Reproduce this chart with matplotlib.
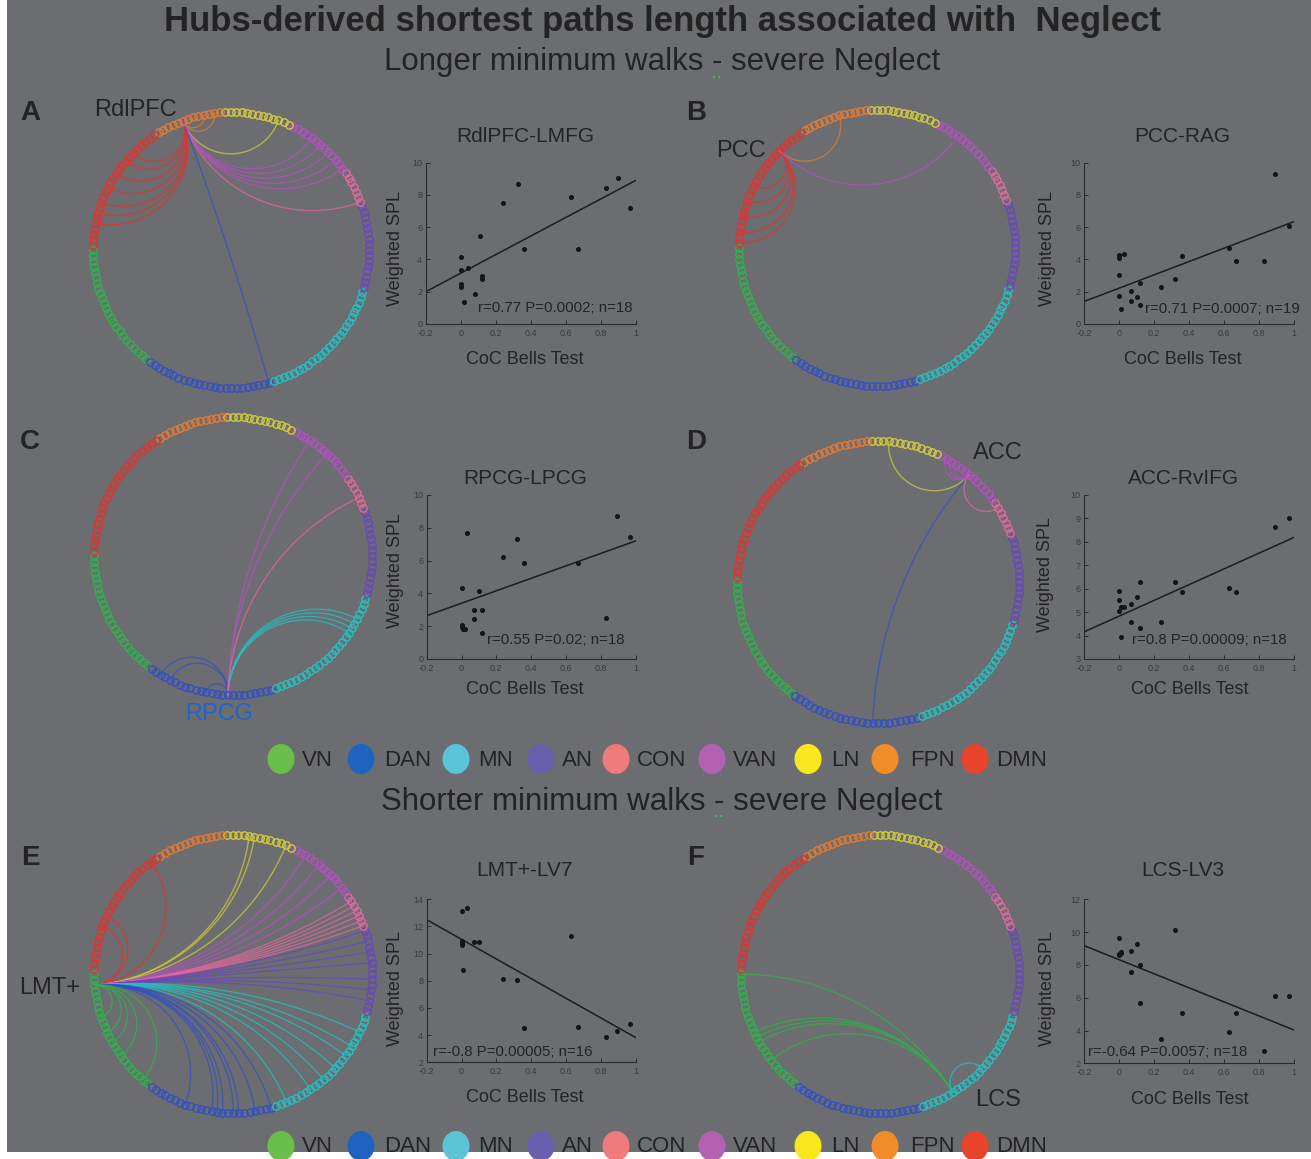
import numpy as np
import matplotlib
matplotlib.use('Agg')
import matplotlib.pyplot as plt
from matplotlib.patches import Ellipse, Rectangle

plt.rcParams['font.family'] = ['Liberation Sans', 'DejaVu Sans']

W, H = 1311, 1159
BG = '#6b6d70'
TXT = '#232323'

# ---------------- network layout data ----------------
network_names = ['VN', 'DAN', 'MN', 'AN', 'CON', 'VAN', 'LN', 'FPN', 'DMN']
network_sizes = [24, 24, 25, 16, 7, 13, 13, 13, 25]
node_colors = ['#2fb24c', '#3350c4', '#22c2c4', '#6a48b8', '#e4679e',
               '#b450c2', '#d6cb3c', '#e57a33', '#e5322d']
legend_colors = ['#6abf4b', '#1f63c0', '#5bc4d6', '#6a5fad', '#ef7b7b',
                 '#b262b0', '#f8e71c', '#f28c28', '#e8432b']
start_angle = 179.0

# ---------------- circle graph data (node indices) ----------------
panels = ['A', 'B', 'C', 'D', 'E', 'F']
hub_nodes = [129, 140, 39, 102, 2, 54]
hub_names = ['RdlPFC', 'PCC', 'RPCG', 'ACC', 'LMT+', 'LCS']
targets_A = [123, 125, 140, 142, 145, 148, 151, 153, 155, 111, 96, 98, 100, 102, 104, 89, 47]
targets_B = [148, 151, 154, 157, 159, 127, 104]
targets_C = [26, 28, 35, 65, 66, 67, 68, 101, 105, 91]
targets_D = [118, 39, 105, 106, 107, 94]
targets_E = [136, 149, 151, 110, 116, 117, 97, 100, 103, 106, 89, 90, 91, 92, 93, 94,
             75, 77, 79, 82, 84, 86, 88, 50, 55, 58, 61, 64, 66, 69,
             31, 36, 37, 38, 40, 41, 44, 47, 8, 11, 13, 16, 22]
targets_F = [0, 11, 12, 13, 17, 61]
all_targets = [targets_A, targets_B, targets_C, targets_D, targets_E, targets_F]

# ---------------- scatter data ----------------
x_label_ticks = ['-0.2', '0', '0.2', '0.4', '0.6', '0.8', '1']
scatter_titles = ['RdlPFC-LMFG', 'PCC-RAG', 'RPCG-LPCG', 'ACC-RvIFG', 'LMT+-LV7', 'LCS-LV3']
stats_text = ['r=0.77 P=0.0002; n=18', 'r=0.71 P=0.0007; n=19', 'r=0.55 P=0.02; n=18',
              'r=0.8 P=0.00009; n=18', 'r=-0.8 P=0.00005; n=16', 'r=-0.64 P=0.0057; n=18']

xA = [0.0, 0.0, 0.04, 0.0, 0.0, 0.02, 0.08, 0.11, 0.12, 0.12, 0.24, 0.33, 0.36, 0.63, 0.67, 0.83, 0.90, 0.97]
yA = [4.17, 3.35, 3.45, 2.48, 2.31, 1.36, 1.88, 5.45, 2.98, 2.77, 7.48, 8.66, 4.65, 7.85, 4.63, 8.41, 9.03, 7.19]
xB = [0.0, 0.0, 0.03, 0.0, 0.0, 0.01, 0.07, 0.07, 0.10, 0.12, 0.12, 0.24, 0.32, 0.36, 0.63, 0.67, 0.83, 0.89, 0.97]
yB = [4.28, 4.07, 4.32, 3.04, 1.74, 0.93, 2.05, 1.43, 1.69, 2.52, 1.18, 2.27, 2.79, 4.21, 4.73, 3.93, 3.93, 9.28, 6.07]
xC = [0.0, 0.0, 0.0, 0.01, 0.02, 0.03, 0.07, 0.07, 0.10, 0.12, 0.12, 0.24, 0.32, 0.36, 0.67, 0.83, 0.89, 0.97]
yC = [4.35, 1.97, 2.07, 1.83, 1.80, 7.66, 2.99, 2.42, 4.15, 2.99, 1.61, 6.20, 7.34, 5.87, 5.87, 2.52, 8.74, 7.42]
xD = [0.0, 0.0, 0.0, 0.01, 0.01, 0.03, 0.07, 0.07, 0.10, 0.12, 0.12, 0.24, 0.32, 0.36, 0.63, 0.67, 0.89, 0.97]
yD = [5.90, 5.51, 5.06, 3.95, 5.20, 5.23, 5.34, 4.56, 5.63, 6.30, 4.34, 4.59, 6.27, 5.87, 6.04, 5.87, 8.61, 9.02]
xE = [0.0, 0.03, 0.0, 0.0, 0.0, 0.01, 0.07, 0.10, 0.24, 0.32, 0.36, 0.63, 0.67, 0.83, 0.89, 0.97]
yE = [13.14, 13.39, 10.76, 10.64, 10.90, 8.82, 10.83, 10.88, 8.11, 8.06, 4.55, 11.33, 4.58, 3.89, 4.31, 4.85]
xF = [0.0, 0.0, 0.0, 0.01, 0.01, 0.07, 0.10, 0.12, 0.07, 0.12, 0.24, 0.32, 0.36, 0.63, 0.67, 0.83, 0.89, 0.97]
yF = [9.62, 8.67, 8.60, 8.81, 8.75, 8.87, 9.28, 8.00, 7.59, 5.70, 3.50, 10.11, 5.05, 3.89, 5.09, 2.77, 6.10, 6.10]
scatter_x = [xA, xB, xC, xD, xE, xF]
scatter_y = [yA, yB, yC, yD, yE, yF]
# fitted regression line values at x=-0.2 and x=1
fit_A = [2.0, 8.9]
fit_B = [1.4, 6.35]
fit_C = [2.64, 7.2]
fit_D = [4.16, 8.18]
fit_E = [12.5, 3.82]
fit_F = [9.17, 4.03]
fits = [fit_A, fit_B, fit_C, fit_D, fit_E, fit_F]
y_limits = [(0, 10), (0, 10), (0, 10), (3, 10), (2, 14), (2, 12)]
y_steps = [2, 2, 2, 1, 2, 2]

# ---------------- layout (pixels) ----------------
circle_geom = [(231, 250, 138), (877, 248, 138), (233, 556, 139),
               (878, 582, 141), (233, 974, 139), (880, 974, 139)]
scatter_boxes = [(425.7, 635.7, 162.7, 324.0), (1084.3, 1294.0, 162.7, 324.0),
                 (426.7, 635.7, 495.0, 659.0), (1084.3, 1294.0, 494.7, 659.0),
                 (426.7, 635.7, 899.3, 1062.3), (1084.3, 1294.0, 899.3, 1063.3)]
stats_pos = [(0.099, 1.0), (0.147, 0.93), (0.144, 1.16), (0.071, 3.81), (-0.162, 2.78), (-0.177, 2.71)]
title_pos = [(525, 137), (1182, 137), (525, 479), (1183, 479), (525, 871), (1183, 871)]
ylab_pos = [(395, 248), (1047, 248), (395, 570), (1045, 575), (395, 988), (1047, 988)]
xlab_pos = [(525, 360), (1183, 360), (525, 690), (1190, 690), (525, 1098), (1190, 1099)]
hub_label_pos = [(135, 110), (741, 151), (219, 714), (998, 453), (50, 988), (998, 1100)]
hub_label_colors = [TXT, TXT, '#1f63d0', TXT, TXT, TXT]
letter_pos = [(30, 113), (696, 113), (30, 442), (696, 442), (30, 858), (696, 858)]

n_nodes = sum(network_sizes)
step = 360.0 / n_nodes
node_group = np.repeat(np.arange(len(network_sizes)), network_sizes)


def node_angle(i):
    return np.deg2rad(start_angle + step * (i + 0.5))


def arc_points(a, b, n=90):
    p1 = np.array([np.cos(a), np.sin(a)])
    p2 = np.array([np.cos(b), np.sin(b)])
    d = np.angle(np.exp(1j * (b - a)))
    half = d / 2
    t = np.linspace(0, 1, n)
    if abs(abs(half) - np.pi / 2) < 0.01:
        return p1[None, :] * (1 - t)[:, None] + p2[None, :] * t[:, None]
    m = a + half
    c = np.array([np.cos(m), np.sin(m)]) / np.cos(half)
    R = abs(np.tan(half))
    f1 = np.arctan2(p1[1] - c[1], p1[0] - c[0])
    f2 = np.arctan2(p2[1] - c[1], p2[0] - c[0])
    df = np.angle(np.exp(1j * (f2 - f1)))
    f = f1 + df * t
    return c[None, :] + R * np.stack([np.cos(f), np.sin(f)], axis=1)


fig = plt.figure(figsize=(W / 100, H / 100), dpi=100, facecolor='white')
ax = fig.add_axes([0, 0, 1, 1])
ax.set_xlim(0, W)
ax.set_ylim(H, 0)
ax.axis('off')
ax.add_patch(Rectangle((7, 0), W - 7, H - 7, facecolor=BG, edgecolor='none', zorder=0))

# ---------------- circle graphs ----------------
for k in range(6):
    cx, cy, r = circle_geom[k]
    hub = hub_nodes[k]
    a0 = node_angle(hub)
    for tgt in all_targets[k]:
        pts = arc_points(a0, node_angle(tgt))
        ax.plot(cx + r * pts[:, 0], cy - r * pts[:, 1], color=node_colors[node_group[tgt]],
                lw=1.0, alpha=0.72, zorder=2, solid_capstyle='round')
    ang = node_angle(np.arange(n_nodes))
    for g in range(len(network_sizes)):
        sel = node_group == g
        ax.plot(cx + r * np.cos(ang[sel]), cy - r * np.sin(ang[sel]), 'o', mfc='none',
                mec=node_colors[g], ms=5.3, mew=1.0, zorder=3)
    hx, hy = hub_label_pos[k]
    ax.text(hx, hy, hub_names[k], fontsize=17, color=hub_label_colors[k], ha='center', va='center', zorder=5)
    lx, ly = letter_pos[k]
    ax.text(lx, ly, panels[k], fontsize=20, fontweight='bold', color=TXT, ha='center', va='center')

# ---------------- titles ----------------
ax.text(662, 22, 'Hubs-derived shortest paths length associated with  Neglect', fontsize=25,
        fontweight='bold', color=TXT, ha='center', va='center')
ax.text(662, 62, 'Longer minimum walks - severe Neglect', fontsize=22.5, color=TXT, ha='center', va='center')
ax.text(662, 802, 'Shorter minimum walks - severe Neglect', fontsize=22.5, color=TXT, ha='center', va='center')
# small green dotted marks under the dashes (spell-check style decoration)
ax.plot([714, 719], [77, 77], 's', ms=1.6, color='#4caf50', mew=0)
ax.plot([716, 721], [816, 816], 's', ms=1.6, color='#4caf50', mew=0)

# ---------------- legends ----------------
leg_circle_x = [281, 361, 456, 541, 616, 712, 808, 885, 975]
leg_text_x = [317, 408, 496, 577, 662, 755, 845, 932, 1022]
for ly in (759, 1146):
    for j in range(len(network_names)):
        ax.add_patch(Ellipse((leg_circle_x[j], ly), 27, 30, facecolor=legend_colors[j], edgecolor='none', zorder=4))
        ax.text(leg_text_x[j], ly + 1, network_names[j], fontsize=16, color=TXT, ha='center', va='center')

# ---------------- scatter plots ----------------
for k in range(6):
    l, rgt, top, bot = scatter_boxes[k]
    sax = fig.add_axes([l / W, 1 - bot / H, (rgt - l) / W, (bot - top) / H])
    sax.set_facecolor('none')
    sax.plot(scatter_x[k], scatter_y[k], 'o', color='#151515', ms=2.6, zorder=3)
    sax.plot([-0.2, 1.0], fits[k], color='#1c1c1c', lw=1.1, zorder=2)
    sax.set_xlim(-0.2, 1.0)
    sax.set_ylim(*y_limits[k])
    sax.set_xticks([-0.2, 0, 0.2, 0.4, 0.6, 0.8, 1.0])
    sax.set_xticklabels(x_label_ticks)
    yt = np.arange(y_limits[k][0], y_limits[k][1] + 0.01, y_steps[k])
    sax.set_yticks(yt)
    sax.set_yticklabels([str(int(v)) for v in yt])
    for s in ('top', 'right'):
        sax.spines[s].set_visible(False)
    for s in ('left', 'bottom'):
        sax.spines[s].set_color('#2a2a2a')
        sax.spines[s].set_linewidth(0.8)
    sax.tick_params(direction='in', length=3, width=0.7, colors='#2a2a2a', labelsize=6.5,
                    labelcolor='#3a3a3a')
    sax.tick_params(axis='x', pad=3.5)
    sax.tick_params(axis='y', pad=2.5)
    sx, sy = stats_pos[k]
    sax.text(sx, sy, stats_text[k], fontsize=10.8, color=TXT, ha='left', va='center')
    tx, ty = title_pos[k]
    ax.text(tx, ty, scatter_titles[k], fontsize=15, color=TXT, ha='center', va='center')
    yx, yy = ylab_pos[k]
    ax.text(yx, yy, 'Weighted SPL', fontsize=13, color=TXT, ha='center', va='center', rotation=90)
    xx, xy = xlab_pos[k]
    ax.text(xx, xy, 'CoC Bells Test', fontsize=13, color=TXT, ha='center', va='center')

fig.savefig('out.png', dpi=100, facecolor=fig.get_facecolor())
